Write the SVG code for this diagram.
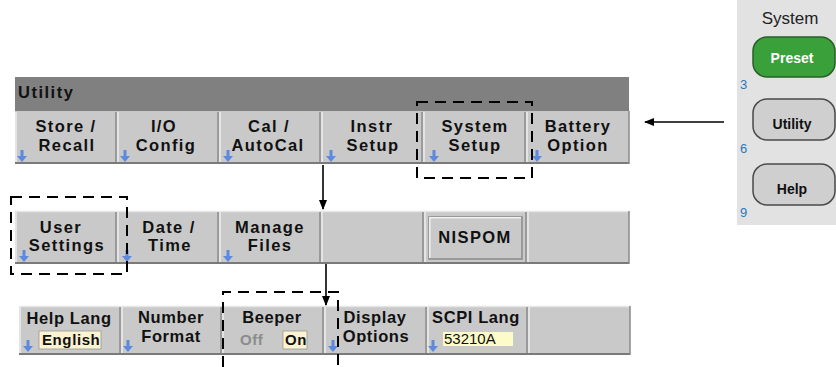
<svg xmlns="http://www.w3.org/2000/svg" width="836" height="367" viewBox="0 0 836 367">
<style>
.bg{fill:#ffffff}
.btn{fill:#c9c9c9}
.hl{stroke:#ececec;stroke-width:1.5}
.sh{stroke:#8a8a8a;stroke-width:1.5}
.base{stroke:#7a7a7a;stroke-width:2}
.lbl{font-family:"Liberation Sans",Arial,sans-serif;font-weight:bold;font-size:16.5px;fill:#111;text-anchor:middle;letter-spacing:1.4px}
.lbl3{font-family:"Liberation Sans",Arial,sans-serif;font-weight:bold;font-size:16.5px;fill:#111;text-anchor:middle;letter-spacing:0.6px}
.val{font-family:"Liberation Sans",Arial,sans-serif;font-weight:bold;font-size:15px;fill:#111;letter-spacing:0.6px}
.dash{fill:none;stroke:#000;stroke-width:2;stroke-dasharray:11 7}
.conn{stroke:#000;stroke-width:1.6;fill:none}
.pbtn{font-family:"Liberation Sans",Arial,sans-serif;font-weight:bold;font-size:14px;text-anchor:middle}
.num{font-family:"Liberation Sans",Arial,sans-serif;font-size:13px;fill:#2a78b8}
</style>
<defs>
<g id="darr">
<rect x="-1.5" y="0" width="3" height="8" fill="#5d8ae0"/>
<polygon points="-5,6 5,6 0,12" fill="#5d8ae0"/>
</g>
<marker id="ah" markerWidth="10" markerHeight="8" refX="9" refY="4" orient="auto" markerUnits="userSpaceOnUse">
<polygon points="0,0 10,4 0,8" fill="#000"/>
</marker>
</defs>
<rect class="bg" x="0" y="0" width="836" height="367"/>

<!-- Row 1 : Utility menu -->
<g id="utility-title">
<rect x="15" y="77" width="614" height="34" fill="#808080"/>
<text x="18" y="98" font-family="Liberation Sans,Arial,sans-serif" font-weight="bold" font-size="16.5" letter-spacing="1.5" fill="#111">Utility</text>
</g>
<g id="row1">
<rect x="15" y="111" width="614" height="52" class="btn"/>
<line x1="15" y1="163" x2="629" y2="163" class="base"/>
<line x1="629" y1="111" x2="629" y2="164" class="sh"/>
</g>
<g id="btn-store-recall">
<line x1="16" y1="112" x2="16" y2="162" class="hl"/>
<line x1="116" y1="112" x2="116" y2="162" class="sh"/>
<text class="lbl" x="66" y="132">Store /</text>
<text class="lbl" x="67" y="151">Recall</text>
<use href="#darr" x="22" y="150"/>
</g>
<g id="btn-io-config">
<line x1="118" y1="112" x2="118" y2="162" class="hl"/>
<line x1="218" y1="112" x2="218" y2="162" class="sh"/>
<text class="lbl" x="164" y="132">I/O</text>
<text class="lbl" x="166" y="151">Config</text>
<use href="#darr" x="125" y="150"/>
</g>
<g id="btn-cal-autocal">
<line x1="220" y1="112" x2="220" y2="162" class="hl"/>
<line x1="320" y1="112" x2="320" y2="162" class="sh"/>
<text class="lbl" x="269" y="132">Cal /</text>
<text class="lbl" x="268" y="151">AutoCal</text>
<use href="#darr" x="228" y="150"/>
</g>
<g id="btn-instr-setup">
<line x1="322" y1="112" x2="322" y2="162" class="hl"/>
<line x1="422" y1="112" x2="422" y2="162" class="sh"/>
<text class="lbl" x="372" y="132">Instr</text>
<text class="lbl" x="373" y="151">Setup</text>
<use href="#darr" x="331" y="150"/>
</g>
<g id="btn-system-setup">
<line x1="424" y1="112" x2="424" y2="162" class="hl"/>
<line x1="525" y1="112" x2="525" y2="162" class="sh"/>
<text class="lbl" x="475" y="132">System</text>
<text class="lbl" x="475" y="151">Setup</text>
<use href="#darr" x="434" y="150"/>
</g>
<g id="btn-battery-option">
<line x1="527" y1="112" x2="527" y2="162" class="hl"/>
<text class="lbl" x="578" y="132">Battery</text>
<text class="lbl" x="578" y="151">Option</text>
<use href="#darr" x="537" y="150"/>
</g>

<!-- Row 2 : System Setup menu -->
<g id="row2">
<rect x="15" y="211" width="614" height="52" class="btn"/>
<line x1="15" y1="211.5" x2="629" y2="211.5" stroke="#e6e6e6" stroke-width="1.5"/>
<line x1="15" y1="263" x2="629" y2="263" class="base"/>
<line x1="629" y1="211" x2="629" y2="264" class="sh"/>
</g>
<g id="btn-user-settings">
<line x1="16" y1="212" x2="16" y2="262" class="hl"/>
<line x1="116" y1="212" x2="116" y2="262" class="sh"/>
<text class="lbl" x="61" y="233">User</text>
<text class="lbl" x="67" y="251">Settings</text>
<use href="#darr" x="24" y="250"/>
</g>
<g id="btn-date-time">
<line x1="118" y1="212" x2="118" y2="262" class="hl"/>
<line x1="218" y1="212" x2="218" y2="262" class="sh"/>
<text class="lbl" x="169" y="233">Date /</text>
<text class="lbl" x="170" y="251">Time</text>
<use href="#darr" x="127" y="250"/>
</g>
<g id="btn-manage-files">
<line x1="220" y1="212" x2="220" y2="262" class="hl"/>
<line x1="320" y1="212" x2="320" y2="262" class="sh"/>
<text class="lbl" x="270" y="233">Manage</text>
<text class="lbl" x="270" y="251">Files</text>
<use href="#darr" x="228" y="250"/>
</g>
<g id="btn-empty-2a">
<line x1="322" y1="212" x2="322" y2="262" class="hl"/>
<line x1="423" y1="212" x2="423" y2="262" class="sh"/>
</g>
<g id="btn-nispom">
<line x1="425" y1="212" x2="425" y2="262" class="hl"/>
<line x1="526" y1="212" x2="526" y2="262" class="sh"/>
<rect x="429" y="217" width="93" height="42" fill="#c9c9c9" stroke="#8a8a8a" stroke-width="1.5"/>
<path d="M429.8,258 V217.8 H521" fill="none" stroke="#f0f0f0" stroke-width="1.5"/>
<text class="lbl" x="475" y="243" letter-spacing="1.2">NISPOM</text>
</g>
<g id="btn-empty-2b">
<line x1="528" y1="212" x2="528" y2="262" class="hl"/>
</g>

<!-- Row 3 : User Settings menu -->
<g id="row3">
<rect x="19" y="306" width="611" height="48" class="btn"/>
<line x1="19" y1="306.5" x2="630" y2="306.5" stroke="#e6e6e6" stroke-width="1.5"/>
<line x1="19" y1="354" x2="630" y2="354" class="base"/>
<line x1="630" y1="306" x2="630" y2="355" class="sh"/>
</g>
<g id="btn-help-lang">
<line x1="20" y1="307" x2="20" y2="353" class="hl"/>
<line x1="120" y1="307" x2="120" y2="353" class="sh"/>
<text class="lbl3" x="69" y="324">Help Lang</text>
<rect x="39" y="331" width="62" height="18" fill="#fbf3d2" stroke="#9a9a90" stroke-width="0.8"/>
<text class="val" x="42" y="345">English</text>
<use href="#darr" x="28" y="340"/>
</g>
<g id="btn-number-format">
<line x1="122" y1="307" x2="122" y2="353" class="hl"/>
<line x1="221" y1="307" x2="221" y2="353" class="sh"/>
<text class="lbl3" x="171" y="323">Number</text>
<text class="lbl3" x="171" y="342">Format</text>
<use href="#darr" x="128" y="340"/>
</g>
<g id="btn-beeper">
<line x1="223" y1="307" x2="223" y2="353" class="hl"/>
<line x1="323" y1="307" x2="323" y2="353" class="sh"/>
<text class="lbl3" x="272" y="323">Beeper</text>
<text class="val" x="240" y="345" style="fill:#8c8c8c">Off</text>
<rect x="283" y="331" width="24" height="18" fill="#fbf3d2" stroke="#9a9a90" stroke-width="0.8"/>
<text class="val" x="285" y="345">On</text>
</g>
<g id="btn-display-options">
<line x1="325" y1="307" x2="325" y2="353" class="hl"/>
<line x1="426" y1="307" x2="426" y2="353" class="sh"/>
<text class="lbl3" x="375" y="323">Display</text>
<text class="lbl3" x="376" y="342">Options</text>
<use href="#darr" x="333" y="340"/>
</g>
<g id="btn-scpi-lang">
<line x1="428" y1="307" x2="428" y2="353" class="hl"/>
<line x1="527" y1="307" x2="527" y2="353" class="sh"/>
<text class="lbl3" x="476" y="323">SCPI Lang</text>
<rect x="443" y="332" width="70" height="14" fill="#fdfbc8"/>
<text x="444" y="344" font-family="Liberation Sans,Arial,sans-serif" font-size="15" fill="#111">53210A</text>
<use href="#darr" x="433" y="340"/>
</g>
<g id="btn-empty-3">
<line x1="529" y1="307" x2="529" y2="353" class="hl"/>
</g>

<!-- Front panel keys -->
<g id="front-panel">
<rect x="737" y="0" width="99" height="225" fill="#e2e2e2"/>
<text x="790" y="24" font-family="Liberation Sans,Arial,sans-serif" font-size="17" fill="#222" text-anchor="middle">System</text>
</g>
<g id="key-preset">
<rect x="753" y="37" width="82" height="40" rx="14" fill="#3aa03a" stroke="#2a5f2a" stroke-width="1.5"/>
<text class="pbtn" x="792" y="63" fill="#ffffff">Preset</text>
<text class="num" x="740" y="89">3</text>
</g>
<g id="key-utility">
<rect x="753" y="99" width="82" height="41" rx="14" fill="#cfcfcf" stroke="#4a4a4a" stroke-width="1.5"/>
<text class="pbtn" x="792" y="129" fill="#111">Utility</text>
<text class="num" x="740" y="153">6</text>
</g>
<g id="key-help">
<rect x="753" y="164" width="82" height="41" rx="14" fill="#cfcfcf" stroke="#4a4a4a" stroke-width="1.5"/>
<text class="pbtn" x="792" y="194" fill="#111">Help</text>
<text class="num" x="740" y="217">9</text>
</g>

<!-- Connectors and highlight boxes -->
<g id="connectors">
<line class="conn" x1="724" y1="122" x2="645" y2="122" marker-end="url(#ah)"/>
<line class="conn" x1="323" y1="165" x2="323" y2="209" marker-end="url(#ah)"/>
<line class="conn" x1="326" y1="264" x2="326" y2="305" stroke-width="2" marker-end="url(#ah)"/>
<rect class="dash" x="417" y="102" width="115" height="76"/>
<rect class="dash" x="11" y="197" width="116" height="77"/>
<path class="dash" d="M223,367 V292 H338 V367"/>
</g>
</svg>
